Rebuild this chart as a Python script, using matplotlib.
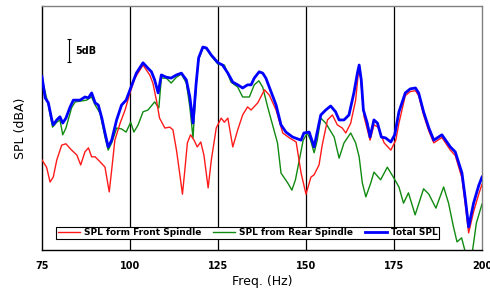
import numpy as np
import matplotlib
matplotlib.use("Agg")
import matplotlib.pyplot as plt

# total SPL
total_f = [75.0, 75.9, 76.8, 77.8, 78.2, 79.2, 80.1, 80.9, 81.8, 83.0, 83.9, 85.8, 87.2, 88.2, 89.1,
           90.1, 91.0, 92.0, 92.9, 93.8, 94.8, 96.2, 97.6, 98.9, 100.2, 101.8, 103.7, 105.1, 106.1,
           107.0, 108.0, 108.9, 110.3, 111.7, 113.2, 114.6, 116.0, 117.0, 117.9, 118.8, 119.5, 120.7,
           121.7, 123.1, 125.0, 126.3, 127.8, 129.2, 130.6, 132.0, 133.4, 134.4, 135.3, 136.7, 137.7,
           138.6, 140.1, 141.5, 142.9, 144.3, 146.2, 148.6, 149.4, 150.9, 152.3, 154.2, 155.6, 157.0,
           158.4, 159.4, 160.8, 162.2, 163.6, 164.6, 165.1, 165.7, 166.3, 167.4, 168.2, 169.3, 170.3,
           171.4, 172.6, 174.1, 175.2, 176.4, 178.2, 179.6, 181.1, 182.0, 183.4, 184.9, 186.3, 188.6,
           191.0, 192.4, 194.3, 195.3, 196.2, 197.6, 199.1, 200.0]
total_db = [78.5, 73.8, 72.7, 68.9, 67.8, 68.9, 69.6, 68.2, 69.3, 71.8, 73.3, 73.3, 74.0, 73.8, 74.9,
            72.7, 72.2, 69.3, 66.0, 62.9, 64.4, 68.9, 72.2, 73.3, 76.0, 79.3, 81.6, 80.4, 79.6,
            77.8, 74.9, 78.9, 78.4, 78.2, 78.9, 79.3, 77.8, 74.0, 68.2, 77.1, 82.7, 85.1,
            84.9, 83.3, 81.6, 81.1, 79.3, 77.3, 76.7, 76.0, 76.7, 76.7, 78.2, 79.6, 79.3,
            78.2, 75.1, 72.2, 67.8, 66.2, 65.1, 64.4, 66.0, 66.2, 62.9, 70.0, 71.1, 72.0,
            70.7, 68.9, 68.9, 70.0, 74.9, 79.3, 81.1, 77.8, 71.1, 68.2, 65.1, 68.9, 68.2,
            65.1, 64.9, 64.0, 65.6, 70.7, 74.9, 75.8, 76.0, 74.9, 70.7, 67.1, 64.4, 65.6,
            62.9, 61.8, 57.1, 51.1, 45.1, 50.4, 54.4, 56.2]

# front spindle
front_f = [75.0, 76.3, 77.3, 78.2, 79.2, 80.6, 81.8, 83.4, 84.9, 86.0, 87.2, 88.2, 89.1, 90.1, 91.5,
           92.9, 94.1, 94.8, 95.7, 97.2, 98.6, 100.0, 101.4, 103.7, 105.6, 106.5, 107.5, 108.4,
           109.9, 111.3, 112.2, 113.2, 114.1, 114.9, 115.5, 116.3, 117.2, 118.2, 119.1, 120.1,
           121.0, 122.2, 123.1, 124.5, 125.9, 126.8, 127.8, 129.2, 130.6, 132.0, 133.4, 134.4,
           136.3, 138.2, 139.6, 141.5, 143.4, 145.3, 147.2, 148.6, 150.0, 151.4, 152.3, 153.7,
           154.6, 156.1, 157.5, 158.9, 160.3, 161.3, 162.7, 164.1, 164.9, 165.5, 166.5, 168.2,
           169.3, 170.5, 172.2, 174.1, 175.5, 176.4, 178.2, 179.6, 181.1, 182.0, 183.4, 184.9,
           186.3, 188.6, 191.0, 192.4, 194.3, 195.3, 196.2, 197.6, 199.1, 200.0]
front_db = [60.0, 58.4, 55.1, 56.2, 60.0, 63.3, 63.6, 62.2, 61.1, 58.9, 61.8, 62.7, 60.7, 60.7, 59.6,
            58.4, 52.9, 57.8, 64.4, 68.2, 71.1, 74.9, 78.2, 81.1, 78.9, 77.1, 73.3, 69.3,
            67.1, 67.3, 66.7, 62.2, 57.1, 52.4, 57.1, 63.8, 65.6, 64.4, 62.9, 64.0,
            61.1, 53.8, 60.0, 67.1, 69.3, 68.4, 69.3, 62.9, 66.7, 70.0, 71.8, 71.1,
            72.7, 75.6, 74.4, 71.1, 66.0, 64.9, 64.0, 57.1, 52.4, 56.2, 56.7, 58.9,
            63.3, 68.9, 70.0, 67.8, 67.1, 66.0, 68.2, 73.3, 79.6, 78.4, 69.6, 64.4,
            67.8, 67.3, 63.8, 62.2, 64.4, 68.2, 74.3, 75.2, 75.4, 74.3, 70.0, 66.4,
            63.8, 65.0, 62.2, 61.0, 56.0, 49.8, 43.8, 48.5, 52.5, 54.6]

# rear spindle
rear_f = [75.0, 76.8, 78.0, 79.2, 80.1, 80.9, 81.8, 83.4, 84.4, 87.7, 88.6, 89.1, 90.1, 91.5, 92.9,
          93.8, 94.8, 96.2, 97.6, 98.9, 100.2, 101.1, 102.3, 103.7, 105.1, 107.0, 108.2, 108.9,
          110.3, 111.7, 113.2, 114.6, 116.0, 117.0, 117.9, 118.8, 119.5, 120.7, 121.7, 123.1,
          125.0, 126.8, 128.7, 130.6, 132.0, 133.9, 135.3, 136.6, 137.7, 139.1, 140.5, 141.9,
          142.9, 144.8, 146.0, 147.0, 148.1, 149.2, 150.4, 151.3, 152.3, 153.2, 154.2, 155.6,
          158.0, 159.4, 160.8, 162.7, 164.1, 165.1, 166.0, 167.0, 168.4, 169.3, 171.2, 173.1,
          174.8, 176.4, 177.7, 179.1, 181.0, 183.4, 184.9, 186.9, 189.1, 190.5, 191.9, 192.9,
          194.2, 195.7, 197.1, 198.4, 200.0]
rear_db = [78.0, 72.2, 67.3, 68.4, 68.9, 65.6, 67.1, 71.6, 72.9, 73.3, 73.8, 74.0, 72.2, 70.4, 65.1,
           62.2, 63.8, 67.1, 66.9, 66.2, 68.4, 66.2, 67.8, 70.7, 71.1, 72.9, 71.6, 78.2,
           78.2, 77.1, 78.4, 79.1, 77.1, 71.8, 64.9, 76.7, 82.4, 84.9, 84.7, 83.1,
           81.3, 81.1, 77.3, 76.2, 74.0, 74.0, 76.7, 77.6, 76.2, 71.8, 67.8, 63.8,
           57.1, 54.9, 53.3, 55.6, 60.0, 64.4, 66.0, 64.4, 61.6, 64.4, 69.3, 68.2,
           65.1, 60.4, 63.8, 66.0, 63.8, 60.7, 54.9, 51.8, 54.9, 57.3, 55.6, 58.4,
           56.2, 54.0, 50.4, 52.7, 47.8, 53.6, 52.4, 49.3, 54.0, 50.4, 45.1, 41.8,
           42.7, 38.2, 38.7, 46.0, 50.2]

grid_f = [100, 125, 150, 175]
xticks = [75, 100, 125, 150, 175, 200]

fig = plt.figure(figsize=(4.9, 2.9), dpi=100)
ax = fig.add_axes([0.0857, 0.138, 0.898, 0.841])

for g in grid_f:
    ax.axvline(g, color="black", lw=0.9, zorder=1)

ax.plot(front_f, front_db, color="#ff1a1a", lw=1.0, label="SPL form Front Spindle", zorder=3)
ax.plot(rear_f, rear_db, color="#108a10", lw=1.0, label="SPL from Rear Spindle", zorder=2)
ax.plot(total_f, total_db, color="#0000ff", lw=2.0, label="Total SPL", zorder=4)

# 5 dB scale bar
ax.errorbar([82.7], [84.3], yerr=[[2.5], [2.5]], color="black", lw=0.8, capsize=1.5,
            capthick=0.8, zorder=5)
ax.text(84.5, 84.3, "5dB", fontsize=7, fontweight="bold", va="center", ha="left")

ax.set_xlim(75, 200)
ax.set_ylim(40, 94.2)
ax.set_xticks(xticks)
ax.set_xticklabels([str(t) for t in xticks], fontsize=7, fontweight="bold")
ax.set_yticks([])
ax.tick_params(axis="x", length=0, pad=8)
for s in ax.spines.values():
    s.set_color("#808080")
    s.set_linewidth(1.0)
ax.spines["bottom"].set_color("black")
ax.spines["left"].set_color("black")

ax.set_xlabel("Freq. (Hz)", fontsize=9, labelpad=3)
ax.set_ylabel("SPL (dBA)", fontsize=9, labelpad=11)

leg = ax.legend(loc="lower left", bbox_to_anchor=(0.022, 0.028), ncol=3,
                prop={"weight": "bold", "size": 6.5}, frameon=True, fancybox=False,
                framealpha=1, edgecolor="black", borderpad=0.15, handlelength=2.5,
                handletextpad=0.4, columnspacing=1.3)
leg.get_frame().set_linewidth(0.8)
leg.set_zorder(10)

fig.savefig("out.png", dpi=100)
